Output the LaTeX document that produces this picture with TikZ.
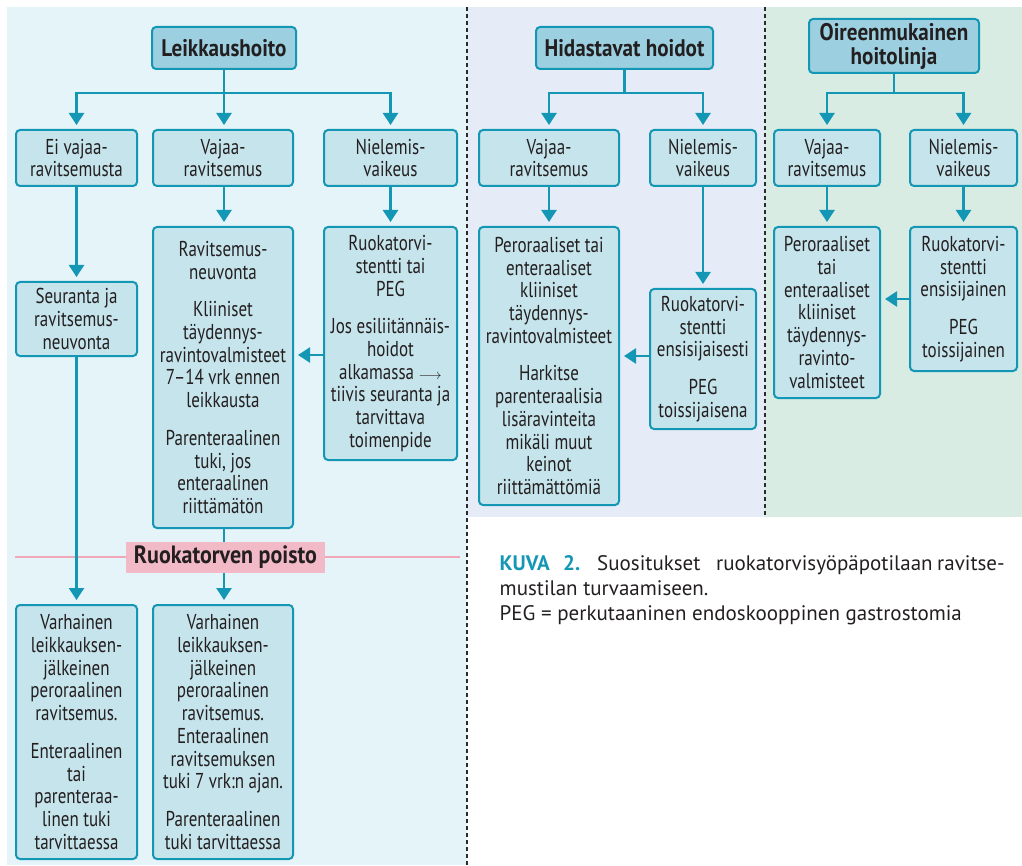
\documentclass[tikz,border=0pt]{standalone}
\usepackage{fontspec}
\setmainfont{PT Sans}[FakeStretch=0.79]
\newfontfamily\titlefont{PT Sans}[FakeStretch=0.88]
\newfontfamily\capfont{PT Sans}
\usetikzlibrary{arrows.meta}
\definecolor{tealc}{HTML}{1497B4}
\definecolor{bgL}{HTML}{E5F4F9}
\definecolor{bgM}{HTML}{E5ECF7}
\definecolor{bgR}{HTML}{D8ECE4}
\definecolor{boxfill}{HTML}{C6E4EB}
\definecolor{titlefill}{HTML}{9CD0E0}
\definecolor{pinkline}{HTML}{F0A8B8}
\definecolor{pinkfill}{HTML}{F2B9C7}
\definecolor{txt}{HTML}{231F20}
\definecolor{dashc}{HTML}{2A2A2A}
\begin{document}
\begin{tikzpicture}[x=1pt,y=-1pt,
  box/.style={draw=tealc, line width=2pt, rounded corners=4pt, fill=boxfill, align=center,
    text=txt, inner sep=0pt, font=\fontsize{21.5}{22.7}\selectfont},
  titlebox/.style={box, fill=titlefill, font=\titlefont\bfseries\fontsize{24}{24}\selectfont},
  ln/.style={draw=tealc, line width=2.4pt},
  arr/.style={draw=tealc, line width=2.4pt, -{Triangle[width=15pt,length=12pt]}, shorten >=4pt},
  dashline/.style={draw=dashc, line width=2pt, dash pattern=on 4pt off 3pt},
  capline/.style={anchor=base west, inner sep=0pt, text=txt, font=\capfont\fontsize{21}{25}\selectfont}]
\useasboundingbox (0,0) rectangle (1022,866);
\clip (0,0) rectangle (1022,866);
% backgrounds
\fill[bgL] (7,7) rectangle (467,865);
\fill[bgM] (467,7) rectangle (765,517);
\fill[bgR] (765,7) rectangle (1022,517);
\draw[dashline] (467,7) -- (467,865);
\draw[dashline] (765,7) -- (765,517);
% pink line
\draw[draw=pinkline, line width=2.5pt] (15,557) -- (460,557);

% left panel
\node[titlebox, minimum width=144pt, minimum height=42pt] (L0) at (224,48) {Leikkaushoito};
\node[box, minimum width=121pt, minimum height=56pt] (L1) at (76.5,158) {Ei vajaa-\\ravitsemusta};
\node[box, minimum width=140pt, minimum height=56pt] (L2) at (223,158) {Vajaa-\\ravitsemus};
\node[box, minimum width=133pt, minimum height=56pt] (L3) at (390.5,158) {Nielemis-\\vaikeus};
\node[box, minimum width=121pt, minimum height=74pt] (L4) at (76.5,319) {Seuranta ja\\ravitsemus-\\neuvonta};
\node[box, minimum width=140pt, minimum height=301pt] (L5) at (223,377.5) {Ravitsemus-\\neuvonta\\[15pt]Kliiniset\\täydennys-\\ravintovalmisteet\\7–14 vrk ennen\\leikkausta\\[15pt]Parenteraalinen\\tuki, jos\\enteraalinen\\riittämätön};
\node[box, minimum width=133pt, minimum height=233pt] (L6) at (390.5,343.5) {Ruokatorvi-\\stentti tai\\PEG\\[15pt]Jos esiliitännäis-\\hoidot\\alkamassa {\fontsize{14}{14}\selectfont$\longrightarrow$}\\tiivis seuranta ja\\tarvittava\\toimenpide};
\node[box, minimum width=121pt, minimum height=254pt] (L7) at (76.5,732) {Varhainen\\leikkauksen-\\jälkeinen\\peroraalinen\\ravitsemus.\\[15pt]Enteraalinen\\tai\\parenteraa-\\linen tuki\\tarvittaessa};
\node[box, minimum width=140pt, minimum height=254pt] (L8) at (223,732) {Varhainen\\leikkauksen-\\jälkeinen\\peroraalinen\\ravitsemus.\\Enteraalinen\\ravitsemuksen\\tuki 7 vrk:n ajan.\\[15pt]Parenteraalinen\\tuki tarvittaessa};

\coordinate (Lj) at (224,93);
\draw[ln] (L0.south) -- (Lj);
\draw[arr] (Lj) -| (L1.north);
\draw[arr] (Lj) -- (Lj |- L2.north);
\draw[arr] (Lj) -| (L3.north);
\draw[arr] (L1.south) -- (L4.north);
\draw[arr] (L4.south) -- (L7.north);
\draw[arr] (L2.south -| Lj) -- (L5.north -| Lj);
\draw[arr] (L3.south) -- (L6.north);
\draw[arr] (L6.west |- 0,355) -- (L5.east |- 0,355);
\draw[arr] (L5.south -| Lj) -- (L8.north -| Lj);

\node[fill=pinkfill, minimum width=199pt, minimum height=31pt, inner sep=0pt, text=txt,
  font=\titlefont\bfseries\fontsize{25}{25}\selectfont] (P) at (225.5,557.5) {Ruokatorven poisto};

% middle panel
\node[titlebox, minimum width=177pt, minimum height=42pt] (M0) at (624.5,48) {Hidastavat hoidot};
\node[box, minimum width=140pt, minimum height=56pt] (M1) at (549,158) {Vajaa-\\ravitsemus};
\node[box, minimum width=106pt, minimum height=56pt] (M2) at (703,158) {Nielemis-\\vaikeus};
\node[box, minimum width=140pt, minimum height=278pt] (M3) at (549,366) {Peroraaliset tai\\enteraaliset\\kliiniset\\täydennys-\\ravintovalmisteet\\[15pt]Harkitse\\parenteraalisia\\lisäravinteita\\mikäli muut\\keinot\\riittämättömiä};
\node[box, minimum width=106pt, minimum height=140pt] (M4) at (703,359) {Ruokatorvi-\\stentti\\ensisijaisesti\\[15pt]PEG\\toissijaisena};
\coordinate (Mj) at (624.5,93);
\draw[ln] (M0.south) -- (Mj);
\draw[arr] (Mj) -| (M1.north);
\draw[arr] (Mj) -| (M2.north);
\draw[arr] (M1.south) -- (M3.north);
\draw[arr] (M2.south) -- (M4.north);
\draw[arr] (M4.west |- 0,356) -- (M3.east |- 0,356);

% right panel
\node[titlebox, minimum width=170pt, minimum height=54pt] (R0) at (894,46) {Oireenmukainen\\hoitolinja};
\node[box, minimum width=106pt, minimum height=56pt] (R1) at (827,158) {Vajaa-\\ravitsemus};
\node[box, minimum width=107pt, minimum height=56pt] (R2) at (963.5,158) {Nielemis-\\vaikeus};
\node[box, minimum width=106pt, minimum height=171pt] (R3) at (827,312.5) {Peroraaliset\\tai\\enteraaliset\\kliiniset\\täydennys-\\ravinto-\\valmisteet};
\node[box, minimum width=107pt, minimum height=144pt] (R4) at (963.5,299) {Ruokatorvi-\\stentti\\ensisijainen\\[15pt]PEG\\toissijainen};
\coordinate (Rj) at (894,93);
\draw[ln] (R0.south) -- (Rj);
\draw[arr] (Rj) -| (R1.north);
\draw[arr] (Rj) -| (R2.north);
\draw[arr] (R1.south) -- (R3.north);
\draw[arr] (R2.south) -- (R4.north);
\draw[arr] (R4.west) -- (R3.east |- R4.west);

% caption
\node[capline] (cap1) at (499.5,570)
  {\makebox[63.5pt][l]{\textcolor{tealc}{\bfseries KUVA}}\makebox[34pt][l]{\textcolor{tealc}{\bfseries 2.}}\makebox[119pt][l]{Suositukset}\makebox[221pt][l]{ruokatorvisyöpäpotilaan}ravitse-};
\node[capline] (cap2) at (499.5,595) {mustilan turvaamiseen.};
\node[capline] (cap3) at (499.5,620) {PEG = perkutaaninen endoskooppinen gastrostomia};
\end{tikzpicture}
\end{document}
